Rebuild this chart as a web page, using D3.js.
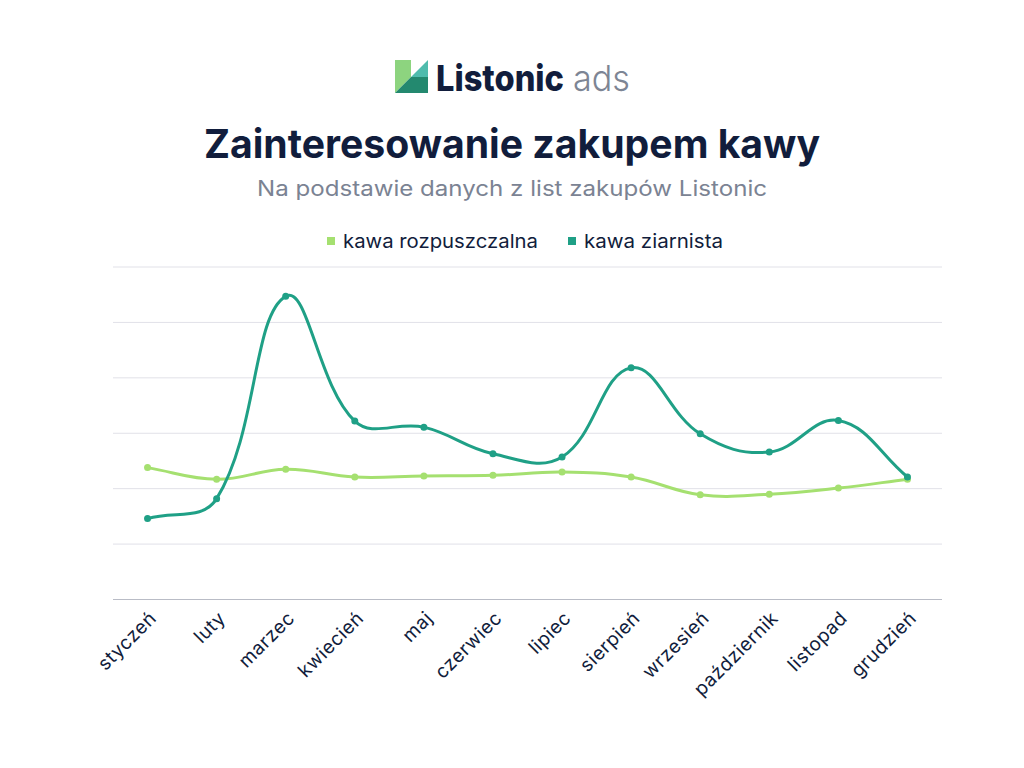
<!DOCTYPE html>
<html lang="pl">
<head>
<meta charset="utf-8">
<script src="https://cdn.jsdelivr.net/npm/d3@7"></script>
<style>
  html, body { margin: 0; padding: 0; background: #fff; }
  svg { display: block; font-family: "Inter", "Noto Sans", sans-serif; }
</style>
</head>
<body>
<div id="chart"></div>
<script>
// dane
const months = ["styczeń", "luty", "marzec", "kwiecień", "maj", "czerwiec",
    "lipiec", "sierpień", "wrzesień", "październik", "listopad", "grudzień"];
const instantValues = [23.8, 21.7, 23.5, 22.1, 22.3, 22.4, 23.0, 22.1, 18.9, 19.0, 20.1, 21.7];
const beanValues = [14.6, 18.2, 54.7, 32.2, 31.1, 26.3, 25.7, 41.8, 29.9, 26.6, 32.3, 22.1];
const seriesNames = ["kawa rozpuszczalna", "kawa ziarnista"];
const yTicks = [0, 10, 20, 30, 40, 50, 60];

const colors = { instant: "#a5e070", bean: "#1fa086", navy: "#111d3c", gray: "#7b8393" };

const width = 1024, height = 768;
const margin = { left: 113, right: 82, top: 267, bottom: 168.5 };

const svg = d3.select("#chart").append("svg")
    .attr("width", width)
    .attr("height", height);

// logo
const logo = svg.append("g");
logo.append("polygon").attr("points", "395,60 411,60 411,77 395,93").attr("fill", "#8dd47f");
logo.append("polygon").attr("points", "411,77 428,60 428,77").attr("fill", "#4fbcad");
logo.append("polygon").attr("points", "395,93 411,77 428,77 428,93").attr("fill", "#23896f");
logo.append("text")
    .attr("x", 436).attr("y", 91)
    .attr("font-size", 36).attr("font-weight", 800)
    .attr("fill", colors.navy)
    .attr("textLength", 128).attr("lengthAdjust", "spacingAndGlyphs")
    .text("Listonic");
logo.append("text")
    .attr("x", 573).attr("y", 91)
    .attr("font-size", 36).attr("font-weight", 300)
    .attr("fill", "#7d8594")
    .attr("textLength", 57).attr("lengthAdjust", "spacingAndGlyphs")
    .text("ads");

// tytuł
svg.append("text")
    .attr("x", 512).attr("y", 158)
    .attr("text-anchor", "middle")
    .attr("font-size", 40).attr("font-weight", 700)
    .attr("fill", colors.navy)
    .attr("textLength", 616).attr("lengthAdjust", "spacingAndGlyphs")
    .text("Zainteresowanie zakupem kawy");

svg.append("text")
    .attr("x", 512).attr("y", 196)
    .attr("text-anchor", "middle")
    .attr("font-size", 21)
    .attr("fill", colors.gray)
    .attr("textLength", 510).attr("lengthAdjust", "spacingAndGlyphs")
    .text("Na podstawie danych z list zakupów Listonic");

// legenda
const legendItems = [
    { name: seriesNames[0], color: colors.instant, x: 327, w: 195 },
    { name: seriesNames[1], color: colors.bean, x: 568, w: 139 }
];
const legend = svg.append("g").selectAll("g")
    .data(legendItems)
    .enter().append("g")
    .attr("transform", d => `translate(${d.x},241)`);
legend.append("rect")
    .attr("x", 0).attr("y", -4)
    .attr("width", 8).attr("height", 8)
    .attr("fill", d => d.color);
legend.append("text")
    .attr("x", 16).attr("y", 7)
    .attr("font-size", 19)
    .attr("fill", colors.navy)
    .attr("textLength", d => d.w).attr("lengthAdjust", "spacingAndGlyphs")
    .text(d => d.name);

// skale
const x = d3.scalePoint()
    .domain(months)
    .range([margin.left, width - margin.right])
    .padding(0.5);

const y = d3.scaleLinear()
    .domain([0, 60])
    .range([height - margin.bottom, margin.top]);

// siatka
svg.append("g")
    .selectAll("line")
    .data(yTicks.filter(t => t > 0))
    .enter().append("line")
    .attr("x1", margin.left).attr("x2", width - margin.right)
    .attr("y1", d => y(d)).attr("y2", d => y(d))
    .attr("stroke", "#e1e1e8")
    .attr("stroke-width", 1);

svg.append("line")
    .attr("x1", margin.left).attr("x2", width - margin.right)
    .attr("y1", y(0)).attr("y2", y(0))
    .attr("stroke", "#b9bcc6")
    .attr("stroke-width", 1.2);

// etykiety osi X
svg.append("g")
    .selectAll("text")
    .data(months)
    .enter().append("text")
    .attr("transform", d => `translate(${x(d) + 10},${y(0) + 20}) rotate(-45)`)
    .attr("text-anchor", "end")
    .attr("font-size", 19)
    .attr("letter-spacing", 0.5)
    .attr("fill", colors.navy)
    .text(d => d);

// krzywa w stylu Chart.js (tension 0.4)
function splineCurve(context) {
    let pts;
    return {
        areaStart() {}, areaEnd() {},
        lineStart() { pts = []; },
        point(px, py) { pts.push([+px, +py]); },
        lineEnd() {
            const t = 0.4;
            const cps = pts.map((p, i) => {
                const prev = pts[i - 1] || p, next = pts[i + 1] || p;
                const d01 = Math.hypot(p[0] - prev[0], p[1] - prev[1]);
                const d12 = Math.hypot(next[0] - p[0], next[1] - p[1]);
                const s = d01 + d12;
                const fa = s ? t * d01 / s : 0, fb = s ? t * d12 / s : 0;
                const dx = next[0] - prev[0], dy = next[1] - prev[1];
                return { cin: [p[0] - fa * dx, p[1] - fa * dy], cout: [p[0] + fb * dx, p[1] + fb * dy] };
            });
            context.moveTo(pts[0][0], pts[0][1]);
            for (let i = 1; i < pts.length; i++) {
                context.bezierCurveTo(cps[i - 1].cout[0], cps[i - 1].cout[1],
                    cps[i].cin[0], cps[i].cin[1], pts[i][0], pts[i][1]);
            }
        }
    };
}

const line = d3.line()
    .x((d, i) => x(months[i]))
    .y(d => y(d))
    .curve(splineCurve);

const series = [
    { values: instantValues, color: colors.instant },
    { values: beanValues, color: colors.bean }
];

series.forEach(s => {
    svg.append("path")
        .datum(s.values)
        .attr("fill", "none")
        .attr("stroke", s.color)
        .attr("stroke-width", 3)
        .attr("d", line);

    svg.append("g")
        .selectAll("circle")
        .data(s.values)
        .enter().append("circle")
        .attr("cx", (d, i) => x(months[i]))
        .attr("cy", d => y(d))
        .attr("r", 3.5)
        .attr("fill", s.color);
});
</script>
</body>
</html>
